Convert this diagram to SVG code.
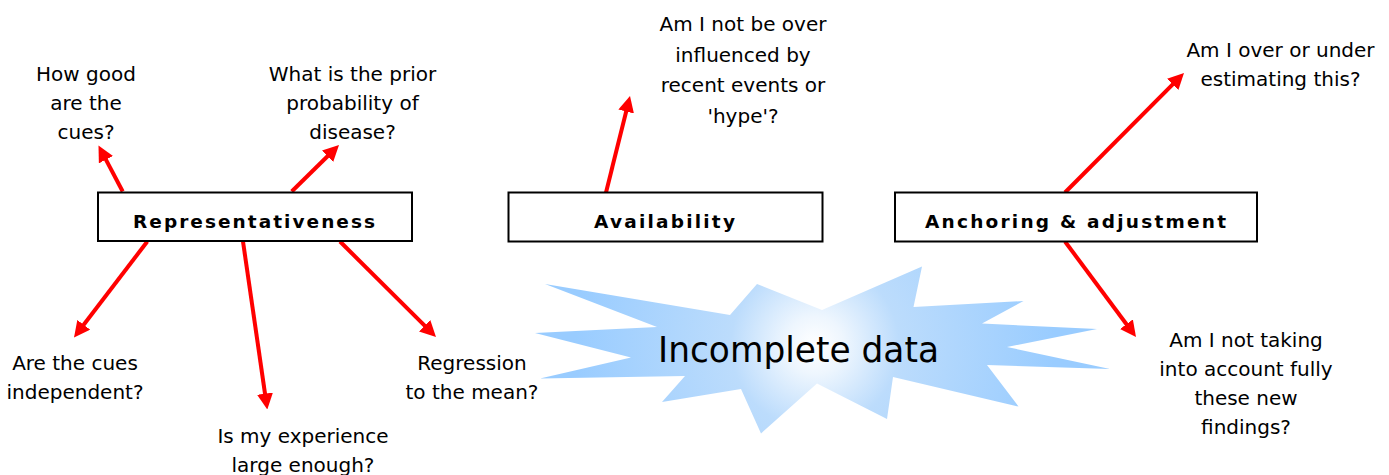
<svg xmlns="http://www.w3.org/2000/svg" width="1389" height="475" viewBox="0 0 1389 475">
<style>
.q{font-family:"DejaVu Sans","Liberation Sans",sans-serif;font-size:20px;fill:#000;text-anchor:middle}
.box{fill:#fff;stroke:#000;stroke-width:2}
.bl{font-family:"DejaVu Sans","Liberation Sans",sans-serif;font-size:18.5px;font-weight:bold;fill:#000;text-anchor:middle}
.ar{stroke:#ff0000;stroke-width:4;fill:none;marker-end:url(#ah)}
</style>
<defs>
<marker id="ah" markerUnits="userSpaceOnUse" markerWidth="16" markerHeight="16" refX="6" refY="8" orient="auto">
<path d="M0,0 L16,8 L0,16 z" fill="#ff0000"/>
</marker>
<radialGradient id="sg" gradientUnits="userSpaceOnUse" cx="815" cy="345" r="240">
<stop offset="0" stop-color="#ffffff"/>
<stop offset="0.12" stop-color="#eef6fe"/>
<stop offset="0.35" stop-color="#bcdcfc"/>
<stop offset="1" stop-color="#99ccff"/>
</radialGradient>
</defs>
<rect width="1389" height="475" fill="#fff"/>
<g id="burst">
<polygon fill="url(#sg)" points="545,284 730,315 757,284 822,310 922,266.5 913.5,307 1023.5,301 982,323.5 1097,329 1007,347 1110,369 987,365 1018.5,406.5 893,377 887,419 817,383.5 761,433.5 741,389 662,402 685,376 540,378.5 631,357.5 535,333 657,327"/>
<text x="798.5" y="362" font-family="DejaVu Sans, Liberation Sans, sans-serif" font-size="35" text-anchor="middle" textLength="281" lengthAdjust="spacingAndGlyphs">Incomplete data</text>
</g>
<g id="connectors">
<line class="ar" x1="122.7" y1="191.5" x2="103.15" y2="154.35"/>
<line class="ar" x1="291.7" y1="191.5" x2="331.87" y2="152.01"/>
<line class="ar" x1="147.3" y1="241.5" x2="80.07" y2="329.55"/>
<line class="ar" x1="243" y1="241.5" x2="265.87" y2="399.6"/>
<line class="ar" x1="340" y1="241.5" x2="428.91" y2="329.95"/>
<line class="ar" x1="606" y1="192.5" x2="627.59" y2="105.71"/>
<line class="ar" x1="1065" y1="192.5" x2="1176.94" y2="80.09"/>
<line class="ar" x1="1065" y1="241.5" x2="1130.03" y2="328.97"/>
</g>
<g id="representativeness">
<rect class="box" x="98" y="192.5" width="314" height="48.5"/>
<text class="bl" x="254" y="228" textLength="242" lengthAdjust="spacing">Representativeness</text>
</g>
<g id="availability">
<rect class="box" x="508.5" y="192.5" width="314" height="49"/>
<text class="bl" x="664.5" y="228" textLength="141" lengthAdjust="spacing">Availability</text>
</g>
<g id="anchoring">
<rect class="box" x="895" y="192.5" width="362" height="49"/>
<text class="bl" x="1075.5" y="228" textLength="301" lengthAdjust="spacing">Anchoring &amp; adjustment</text>
</g>
<g id="q-cues">
<text class="q" x="86" y="81">How good</text>
<text class="q" x="86" y="110">are the</text>
<text class="q" x="86" y="139">cues?</text>
</g>
<g id="q-prior">
<text class="q" x="352.5" y="81">What is the prior</text>
<text class="q" x="352.5" y="110">probability of</text>
<text class="q" x="352.5" y="139">disease?</text>
</g>
<g id="q-independent">
<text class="q" x="75" y="370">Are the cues</text>
<text class="q" x="75" y="399">independent?</text>
</g>
<g id="q-experience">
<text class="q" x="303" y="443">Is my experience</text>
<text class="q" x="303" y="472">large enough?</text>
</g>
<g id="q-regression">
<text class="q" x="472" y="370">Regression</text>
<text class="q" x="472" y="399">to the mean?</text>
</g>
<g id="q-recent">
<text class="q" x="743" y="31">Am I not be over</text>
<text class="q" x="743" y="62">influenced by</text>
<text class="q" x="743" y="92">recent events or</text>
<text class="q" x="743" y="123">'hype'?</text>
</g>
<g id="q-estimating">
<text class="q" x="1280.5" y="57">Am I over or under</text>
<text class="q" x="1280.5" y="86">estimating this?</text>
</g>
<g id="q-findings">
<text class="q" x="1246" y="347">Am I not taking</text>
<text class="q" x="1246" y="376">into account fully</text>
<text class="q" x="1246" y="405">these new</text>
<text class="q" x="1246" y="434">findings?</text>
</g>
</svg>
